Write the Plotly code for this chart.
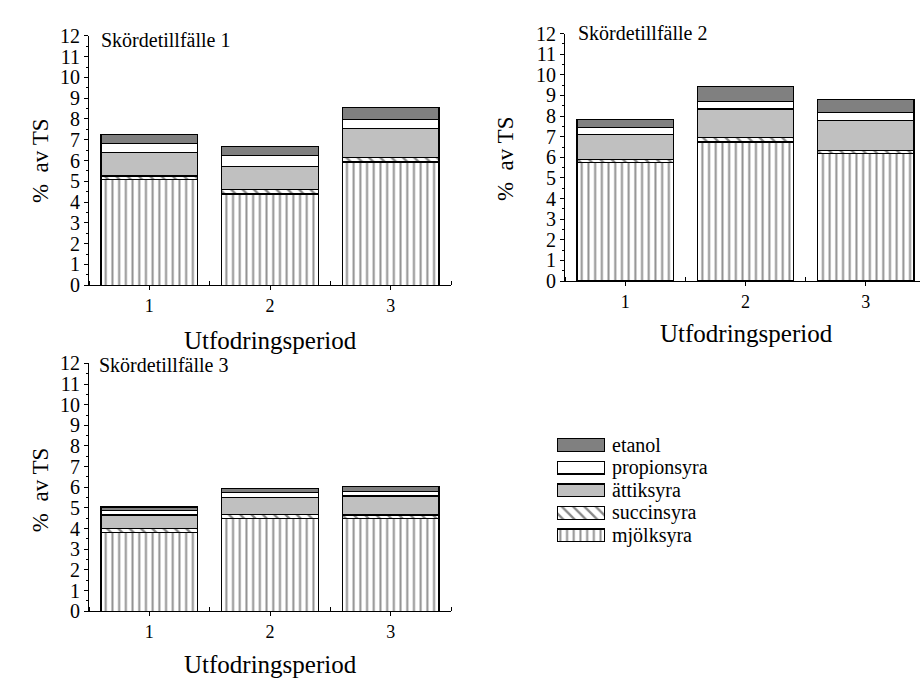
import plotly.graph_objects as go

# Feeding periods (x categories)
periods = [1, 2, 3]

# Component shares (% of dry matter), stacked bottom to top, one list per harvest
mjolksyra = {1: [5.08, 4.39, 5.93], 2: [5.74, 6.74, 6.17], 3: [3.83, 4.50, 4.50]}
succinsyra = {1: [0.18, 0.22, 0.20], 2: [0.16, 0.21, 0.18], 3: [0.19, 0.17, 0.16]}
attiksyra = {1: [1.11, 1.09, 1.42], 2: [1.20, 1.39, 1.44], 3: [0.64, 0.85, 0.92]}
propionsyra = {1: [0.45, 0.53, 0.43], 2: [0.35, 0.38, 0.39], 3: [0.20, 0.21, 0.23]}
etanol = {1: [0.42, 0.45, 0.59], 2: [0.37, 0.70, 0.61], 3: [0.19, 0.21, 0.22]}

panel_titles = {1: "Skördetillfälle 1", 2: "Skördetillfälle 2", 3: "Skördetillfälle 3"}
y_ticks = list(range(0, 13))

FONT = "Liberation Serif"

series = [
    ("mjölksyra", mjolksyra, dict(color="white", pattern=dict(shape="|", fgcolor="#222", bgcolor="white", size=6.7, solidity=0.3))),
    ("succinsyra", succinsyra, dict(color="white", pattern=dict(shape="\\", fgcolor="#111", bgcolor="white", size=8, solidity=0.3))),
    ("ättiksyra", attiksyra, dict(color="#c0c0c0")),
    ("propionsyra", propionsyra, dict(color="white")),
    ("etanol", etanol, dict(color="#808080")),
]

fig = go.Figure()

axes = {1: ("x", "y"), 2: ("x2", "y2"), 3: ("x3", "y3")}
for panel, (xa, ya) in axes.items():
    for name, data, mk in series:
        fig.add_trace(go.Bar(
            x=periods, y=data[panel], name=name, xaxis=xa, yaxis=ya,
            width=0.8, showlegend=False, hoverinfo="skip",
            marker=dict(**mk, line=dict(color="black", width=1.2)),
        ))

# Legend swatches drawn as horizontal bars in their own small axis
legend_order = [s[0] for s in series]
swatch = [1] * len(legend_order)
for (name, data, mk), val in zip(series, swatch):
    fig.add_trace(go.Bar(
        x=[val], y=[name], orientation="h", xaxis="x4", yaxis="y4",
        width=0.56, showlegend=False, hoverinfo="skip",
        marker=dict(**mk, line=dict(color="black", width=1.2)),
    ))

def px_x(p):
    return p / 920

def px_y(p):
    return 1 - p / 689

def xaxis(domain, rng, anchor):
    return dict(domain=domain, range=rng, anchor=anchor, tickmode="linear", tick0=1, dtick=1,
                ticks="outside", ticklen=4, tickcolor="black", showline=True, linecolor="black",
                linewidth=1, showgrid=False, zeroline=False,
                tickfont=dict(family=FONT, size=18, color="black"),
                minor=dict(tick0=0.5, dtick=1, ticks="inside", ticklen=4, tickcolor="black"))

def yaxis(domain, anchor):
    return dict(domain=domain, range=[0, 12], anchor=anchor, tickvals=y_ticks,
                ticks="outside", ticklen=4, tickcolor="black", showline=True, linecolor="black",
                linewidth=1, showgrid=False, zeroline=False,
                tickfont=dict(family=FONT, size=20, color="black"),
                minor=dict(tick0=0.5, dtick=1, ticks="outside", ticklen=2, tickcolor="black"))

fig.update_layout(
    width=920, height=689, margin=dict(l=0, r=0, t=0, b=0),
    paper_bgcolor="white", plot_bgcolor="white", barmode="stack", bargap=0.2,
    font=dict(family=FONT, color="black"),
    xaxis=xaxis([px_x(89), px_x(451)], [0.5, 3.5], "y"),
    yaxis=yaxis([px_y(283.3), px_y(25.7)], "x"),
    xaxis2=xaxis([px_x(565), 1.0], [0.5, 3.45], "y2"),
    yaxis2=yaxis([px_y(279), px_y(23.3)], "x2"),
    xaxis3=xaxis([px_x(89), px_x(451)], [0.5, 3.5], "y3"),
    yaxis3=yaxis([px_y(620), px_y(364)], "x3"),
    xaxis4=dict(domain=[px_x(557), px_x(605)], range=[0, 1], anchor="y4", visible=False),
    yaxis4=dict(domain=[px_y(553.35), px_y(436.85)], range=[-0.5, 4.5], anchor="x4", visible=False,
                type="category", categoryorder="array", categoryarray=legend_order),
)

annotations = []
# Panel labels
for (x, y, panel) in [(99, 30, 1), (576, 23, 2), (97, 366, 3)]:
    annotations.append(dict(text=panel_titles[panel], x=px_x(x), y=px_y(y), xref="paper", yref="paper",
                            xanchor="left", yanchor="middle", showarrow=False,
                            font=dict(family=FONT, size=20, color="black")))
# Axis titles
for (x, y) in [(40, 155), (505, 153), (40, 495)]:
    annotations.append(dict(text="%  av TS", x=px_x(x), y=px_y(y), xref="paper", yref="paper",
                            textangle=-90, showarrow=False, xanchor="center", yanchor="middle",
                            font=dict(family=FONT, size=23, color="black")))
for (x, y) in [(270, 340), (746, 333), (270, 675)]:
    annotations.append(dict(text="Utfodringsperiod", x=px_x(x), y=px_y(y), xref="paper", yref="paper",
                            showarrow=False, xanchor="center", yanchor="middle",
                            font=dict(family=FONT, size=25, color="black")))
# Legend labels
for i, name in enumerate(reversed(legend_order)):
    annotations.append(dict(text=name, x=px_x(610), y=px_y(448.5 + i * 23.3), xref="paper", yref="paper",
                            showarrow=False, xanchor="left", yanchor="middle",
                            font=dict(family=FONT, size=20, color="black")))

fig.update_layout(annotations=annotations)
fig.write_html("out.html")
